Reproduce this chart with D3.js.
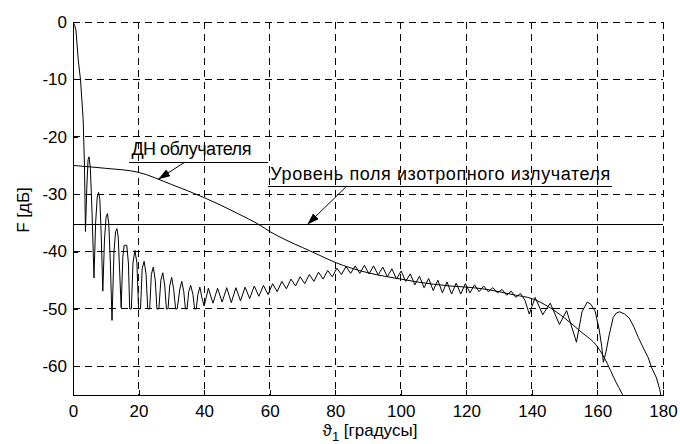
<!DOCTYPE html>
<html>
<head>
<meta charset="utf-8">
<script src="https://cdn.jsdelivr.net/npm/d3@7"></script>
<style>
body { margin: 0; background: #fff; }
svg { display: block; font-family: "Liberation Sans", Arial, "DejaVu Sans", sans-serif; }
</style>
</head>
<body>
<svg></svg>
<script>
// tick values and labels
let xTicks = [0, 20, 40, 60, 80, 100, 120, 140, 160, 180]
let xTickLabels = ['0', '20', '40', '60', '80', '100', '120', '140', '160', '180']
let yTicks = [-60, -50, -40, -30, -20, -10, 0]
let yTickLabels = ['-60', '-50', '-40', '-30', '-20', '-10', '0']

// antenna pattern (angle in degrees, level in dB)
let mainAngle = [
    0, 0.5, 0.9, 1.6, 2.3, 3.1, 3.5, 3.8, 4.2, 4.6, 4.9, 5.3, 5.8, 6.4, 6.9, 7.4, 7.8, 8.2, 8.6, 9.1,
    9.6, 10.1, 10.5, 10.9, 11.4, 11.9, 12.5, 13.0, 13.4, 13.8, 14.2, 14.7, 15.2, 15.6, 16.4, 16.9, 17.3, 17.8, 18.3, 18.9,
    19.5, 20.0, 20.6, 21.1, 21.7, 22.3, 22.8, 23.4, 23.9, 24.5, 25.1, 25.6, 26.2, 26.8, 27.4, 28.0, 28.5, 29.0, 29.5, 30.1,
    30.7, 31.3, 31.8, 32.6, 33.2, 33.8, 34.3, 34.8, 35.3, 35.9, 36.6, 37.1, 37.6, 38.1, 38.7, 39.3, 40.0,
    41.3, 42.7, 44.1, 45.5, 46.9, 48.3, 49.7, 51.1, 52.5, 53.9, 55.3, 56.7, 58.1, 59.5, 60.9, 62.3, 63.7, 65.1, 66.5, 67.9,
    69.3, 70.7, 72.1, 73.5, 74.9, 76.3, 77.7, 79.1, 80.5, 81.9, 83.3, 84.7, 86.1, 87.5, 88.9, 90.3, 91.7, 93.1, 94.5, 95.9,
    97.3, 98.7, 100.1, 101.5, 102.9, 104.3, 105.7, 107.1, 108.5, 109.9, 111.3, 112.7, 114.1, 115.5, 116.9, 118.3, 119.7, 121.1, 122.5, 123.9,
    125.3, 126.7, 128.1, 129.5, 130.9, 132.3, 133.7, 135.1, 136.5, 137.9, 139.2, 141.0, 143.3, 145.6, 148.4, 150.6, 153.6, 155.3, 156.9, 158.0,
    159.3, 160.5, 161.3, 161.8, 162.6, 163.6, 164.8, 165.8, 166.8, 168.3, 169.7, 171.0, 172.5, 174.0, 175.5, 176.5, 178.0, 179.0, 179.5
]
let mainDb = [
    0, -0.6, -1.4, -6.6, -10.1, -17, -25, -36.5, -29, -24, -23.5, -25.5, -33, -44.6, -35, -30.5, -29.7, -31, -37, -46.9,
    -38, -34, -33.4, -35, -42, -52, -40, -36.5, -36, -37.5, -43, -49.8, -41, -38.9, -38.9, -42, -50, -50, -42, -39.8,
    -42, -50, -50, -43, -41.7, -44, -50, -50, -44, -42.7, -45, -50, -50, -45, -43.7, -46, -50, -50, -46, -44.5,
    -46.5, -50, -50, -46.5, -45.2, -47, -50, -50, -47, -45.9, -47.5, -50, -50, -47.5, -46.2, -48, -49.5,
    -46.4, -49, -46.4, -48.8, -46.3, -48.9, -46.3, -48.6, -46.2, -48.2, -46, -47.8, -45.9, -47.5, -45.6, -47, -45.2, -46.5, -44.8, -46,
    -44.4, -45.6, -44, -45.2, -43.6, -44.8, -43.3, -44.4, -42.9, -44, -42.6, -43.8, -42.5, -43.8, -42.4, -43.9, -42.5, -44.1, -42.7, -44.4,
    -43, -44.8, -43.4, -45.2, -43.9, -45.8, -44.3, -46.3, -44.7, -46.8, -45, -47.2, -45.3, -47.4, -45.5, -47.4, -45.6, -47.2, -45.8, -47,
    -46, -47, -46.3, -47.2, -46.6, -47.6, -46.9, -48, -47.3, -48.5, -50.9, -48, -51, -49, -52.7, -50.3, -55.8, -50.5, -48.8, -49.2,
    -50.4, -53.5, -56.5, -59.3, -57.5, -54.5, -51.5, -50.7, -50.5, -50.9, -51.6, -53, -55, -56.8, -58.5, -60.2, -62, -64, -65.5
]

// feed pattern
let feedAngle = [0, 10, 20, 30, 40, 50, 57, 60, 65, 70, 75, 80, 85, 90, 95, 100, 105, 110, 115, 120,
    125, 130, 135, 140, 145, 150, 155, 160, 163, 165, 168, 170]
let feedDb = [-25.0, -25.5, -26.2, -28.3, -30.6, -33.3, -35.4, -36.5, -38.0, -39.3, -40.6, -41.9, -42.9, -43.7, -44.3, -44.8, -45.3, -45.7, -46.0, -46.2,
    -46.5, -47.0, -47.6, -48.2, -49.6, -51.6, -54.0, -56.6, -59.5, -62.0, -65.3, -67.5]

// isotropic radiator level
let isoLevel = -35.3

let width = 680
let height = 444
let padLeft = 73
let padRight = 663
let padTop = 22
let padBottom = 395

let svg = d3.select('svg')
    .attr('width', width)
    .attr('height', height)

let xScale = d3.scaleLinear().domain([0, 180]).range([padLeft, padRight])
let yScale = d3.scaleLinear().domain([-65, 0]).range([padBottom, padTop])

let defs = svg.append('defs')

defs.append('clipPath')
    .attr('id', 'plot-area')
    .append('rect')
    .attr('x', padLeft)
    .attr('y', padTop)
    .attr('width', padRight - padLeft)
    .attr('height', padBottom - padTop)

defs.append('marker')
    .attr('id', 'arrow')
    .attr('markerUnits', 'userSpaceOnUse')
    .attr('markerWidth', 14)
    .attr('markerHeight', 10)
    .attr('refX', 12)
    .attr('refY', 4)
    .attr('orient', 'auto')
    .append('path')
    .attr('d', 'M0,0 L12,4 L0,8 Z')
    .attr('fill', 'black')

// dashed grid
let grid = svg.append('g')
    .attr('stroke', 'black')
    .attr('stroke-width', 1)
    .attr('stroke-dasharray', '7,5')
    .attr('shape-rendering', 'crispEdges')

grid.selectAll('.vgrid')
    .data(xTicks.slice(1))
    .enter()
    .append('line')
    .attr('class', 'vgrid')
    .attr('x1', (d) => xScale(d))
    .attr('x2', (d) => xScale(d))
    .attr('y1', padTop)
    .attr('y2', padBottom)

grid.selectAll('.hgrid')
    .data(yTicks)
    .enter()
    .append('line')
    .attr('class', 'hgrid')
    .attr('x1', padLeft)
    .attr('x2', padRight)
    .attr('y1', (d) => yScale(d))
    .attr('y2', (d) => yScale(d))

// axes
let xAxis = d3.axisBottom(xScale)
    .tickValues(xTicks)
    .tickSizeInner(-5)
    .tickSizeOuter(0)
    .tickPadding(10)
    .tickFormat((d, i) => xTickLabels[i])

let yAxis = d3.axisLeft(yScale)
    .tickValues(yTicks)
    .tickSizeInner(-5)
    .tickSizeOuter(0)
    .tickPadding(6)
    .tickFormat((d, i) => yTickLabels[i])

svg.append('g')
    .attr('transform', 'translate(0, ' + padBottom + ')')
    .attr('shape-rendering', 'crispEdges')
    .call(xAxis)
    .attr('font-size', 17)
    .attr('font-family', null)

svg.append('g')
    .attr('transform', 'translate(' + padLeft + ', 0)')
    .attr('shape-rendering', 'crispEdges')
    .call(yAxis)
    .attr('font-size', 17)
    .attr('font-family', null)

svg.selectAll('.domain, .tick line').attr('stroke', 'black')
svg.selectAll('.tick text').attr('fill', 'black')

// curves
let plot = svg.append('g').attr('clip-path', 'url(#plot-area)')

let mainLine = d3.line()
    .x((d, i) => xScale(mainAngle[i]))
    .y((d, i) => yScale(mainDb[i]))

let feedLine = d3.line()
    .x((d, i) => xScale(feedAngle[i]))
    .y((d, i) => yScale(feedDb[i]))
    .curve(d3.curveMonotoneX)

plot.append('path')
    .datum(mainDb)
    .attr('d', mainLine)
    .attr('fill', 'none')
    .attr('stroke', 'black')
    .attr('stroke-width', 1)

plot.append('path')
    .datum(feedDb)
    .attr('d', feedLine)
    .attr('fill', 'none')
    .attr('stroke', 'black')
    .attr('stroke-width', 1)

plot.append('line')
    .attr('x1', xScale(0))
    .attr('x2', xScale(180))
    .attr('y1', yScale(isoLevel))
    .attr('y2', yScale(isoLevel))
    .attr('stroke', 'black')
    .attr('shape-rendering', 'crispEdges')

// annotations
let notes = [
    { text: 'ДН облучателя', len: 120, x0: 17.2, x1: 59.6, y: -24.4, ty: -23.2, from: [34.2, -24.4], to: [26.0, -27.4] },
    { text: 'Уровень поля изотропного излучателя', len: 340, x0: 59.6, x1: 164.4, y: -28.6, ty: -27.5, from: [83.5, -28.6], to: [71.5, isoLevel] }
]

notes.forEach((n) => {
    svg.append('text')
        .attr('x', xScale(n.x0) + 2)
        .attr('y', yScale(n.ty))
        .attr('font-size', 18)
        .attr('textLength', n.len)
        .attr('lengthAdjust', 'spacing')
        .attr('fill', 'black')
        .text(n.text)
    svg.append('line')
        .attr('x1', xScale(n.x0))
        .attr('x2', xScale(n.x1))
        .attr('y1', yScale(n.y))
        .attr('y2', yScale(n.y))
        .attr('stroke', 'black')
        .attr('shape-rendering', 'crispEdges')
    svg.append('line')
        .attr('x1', xScale(n.from[0]))
        .attr('y1', yScale(n.from[1]))
        .attr('x2', xScale(n.to[0]))
        .attr('y2', yScale(n.to[1]))
        .attr('stroke', 'black')
        .attr('marker-end', 'url(#arrow)')
})

// axis titles
let xTitle = svg.append('text')
    .attr('x', 370)
    .attr('y', 436)
    .attr('text-anchor', 'middle')
    .attr('font-size', 17)
    .attr('fill', 'black')
xTitle.append('tspan').text('ϑ')
xTitle.append('tspan').attr('dy', 5).attr('font-size', 13).text('1')
xTitle.append('tspan').attr('dy', -5).text(' [градусы]')

svg.append('text')
    .attr('transform', 'translate(29, 210) rotate(-90)')
    .attr('text-anchor', 'middle')
    .attr('font-size', 17)
    .attr('fill', 'black')
    .text('F [дБ]')
</script>
</body>
</html>
